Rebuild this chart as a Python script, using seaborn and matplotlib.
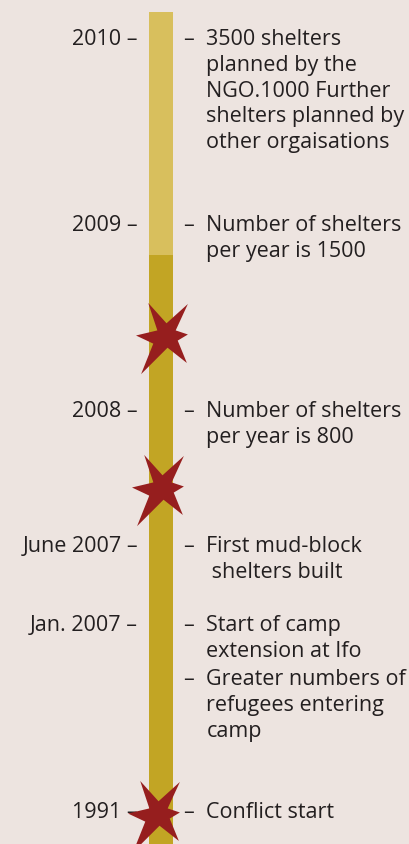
import numpy as np
import matplotlib
matplotlib.use("Agg")
import matplotlib.pyplot as plt
import seaborn as sns
from matplotlib.markers import MarkerStyle

# timeline positions are measured downward from the top of the bar
bar_length = 832
phase_boundary = 243  # planned (light) vs. done (dark)

year_labels = ["2010", "2009", "2008", "June 2007", "Jan. 2007", "1991"]
year_pos = [33, 219, 405, 540, 619, 806]

note_texts = [
    "3500 shelters\nplanned by the\nNGO.1000 Further\nshelters planned by\nother orgaisations",
    "Number of shelters\nper year is 1500",
    "Number of shelters\nper year is 800",
    "First mud-block\n shelters built",
    "Start of camp\nextension at Ifo",
    "Greater numbers of\nrefugees entering\ncamp",
    "Conflict start",
]
note_pos = [33, 219, 405, 540, 619, 673, 806]

# stars sit a little off the bar centre in the original
star_pos = [323, 475, 801]
star_shift = [0.17, 0.0, -0.15]

BG = "#ede4e0"
LIGHT = "#d8bf5d"
DARK = "#c2a524"
RED = "#961e1e"
INK = "#231f20"

sns.set_style("white")
plt.rcParams["font.family"] = ["Open Sans", "DejaVu Sans"]

W, H, DPI = 409, 844, 100
fig = plt.figure(figsize=(W / DPI, H / DPI), dpi=DPI, facecolor=BG)
top_gap = 12
ax = fig.add_axes([0, 0, 1, (H - top_gap) / H])
ax.set_facecolor(BG)

# whole bar dark, then the planned part painted light on top
sns.barplot(x=[0], y=[bar_length], color=DARK, saturation=1, width=1,
            linewidth=0, ax=ax)
sns.barplot(x=[0], y=[phase_boundary], color=LIGHT, saturation=1, width=1,
            linewidth=0, ax=ax)

# irregular six point burst
star = MarkerStyle([(-17, 32), (1, 12), (22, 31), (10, 5), (22, 1), (12, -5),
                    (21, -27), (2, -12), (-24, -38), (-12, -8), (-29, 0),
                    (-8, 5), (-17, 32)])
sns.scatterplot(x=np.array(star_shift), y=star_pos, marker=star, s=3100,
                color=RED, linewidth=0, ax=ax, zorder=5)

bar_px = 24
center_px = 161
ax.set_xlim(-center_px / bar_px, (W - center_px) / bar_px)
ax.set_ylim(H - top_gap, 0)
ax.axis("off")

fs = 15.5
asc = 11.8  # baseline to top of first line, points
for lab, y in zip(year_labels, year_pos):
    ax.annotate(lab + " \u2013", xy=(-0.5, y), xytext=(-8, asc),
                textcoords="offset points", ha="right", va="top",
                fontsize=fs, color=INK)
for txt, y in zip(note_texts, note_pos):
    ax.annotate("\u2013", xy=(0.5, y), xytext=(7, asc),
                textcoords="offset points", ha="left", va="top",
                fontsize=fs, color=INK)
    ax.annotate(txt, xy=(0.5, y), xytext=(24, asc),
                textcoords="offset points", ha="left", va="top",
                fontsize=fs, color=INK, linespacing=1.31)

fig.savefig("out.png", dpi=DPI, facecolor=BG)
